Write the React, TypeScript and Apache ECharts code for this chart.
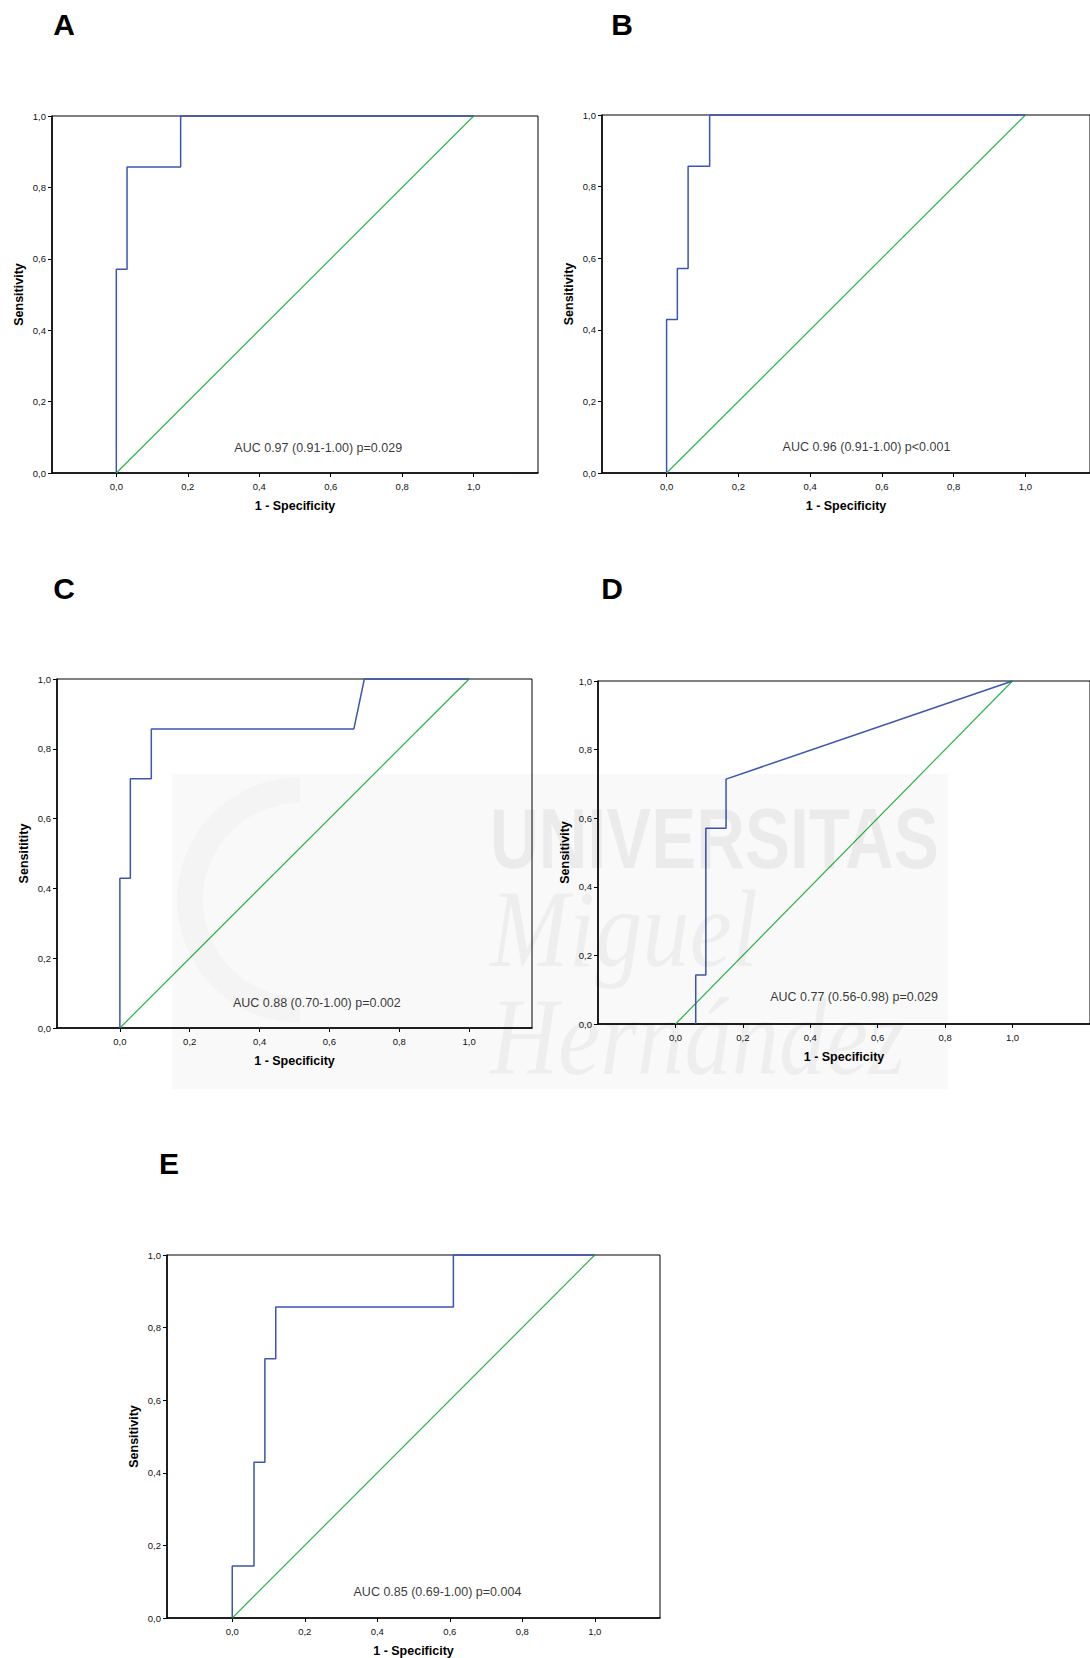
import React, { useEffect, useRef } from 'react';
import * as echarts from 'echarts';

const FONT = '"Liberation Sans", Arial, Helvetica, sans-serif';
const SERIF = '"Liberation Serif", "DejaVu Serif", serif';

// ---- data ----
const panelLetters = ['A', 'B', 'C', 'D', 'E'];
const yTitles = ['Sensitivity', 'Sensitivity', 'Sensititity', 'Sensitivity', 'Sensitivity'];
const xTitle = '1 - Specificity';
const xTickValues = [0, 0.2, 0.4, 0.6, 0.8, 1.0];
const aucTexts = [
  'AUC 0.97 (0.91-1.00) p=0.029',
  'AUC 0.96 (0.91-1.00) p<0.001',
  'AUC 0.88 (0.70-1.00) p=0.002',
  'AUC 0.77 (0.56-0.98) p=0.029',
  'AUC 0.85 (0.69-1.00) p=0.004',
];

const fprA = [0, 0, 0.03, 0.03, 0.18, 0.18, 1];
const sensA = [0, 0.571, 0.571, 0.857, 0.857, 1, 1];
const fprB = [0, 0, 0.03, 0.03, 0.06, 0.06, 0.12, 0.12, 1];
const sensB = [0, 0.429, 0.429, 0.571, 0.571, 0.857, 0.857, 1, 1];
const fprC = [0, 0, 0.03, 0.03, 0.09, 0.09, 0.67, 0.70, 1];
const sensC = [0, 0.429, 0.429, 0.714, 0.714, 0.857, 0.857, 1, 1];
const fprD = [0.06, 0.06, 0.09, 0.09, 0.15, 0.15, 1];
const sensD = [0, 0.143, 0.143, 0.571, 0.571, 0.714, 1];
const fprE = [0, 0, 0.06, 0.06, 0.09, 0.09, 0.12, 0.12, 0.61, 0.61, 1];
const sensE = [0, 0.143, 0.143, 0.429, 0.429, 0.714, 0.714, 0.857, 0.857, 1, 1];
const refFpr = [0, 1];
const refSens = [0, 1];

const curves = [
  [fprA, sensA],
  [fprB, sensB],
  [fprC, sensC],
  [fprD, sensD],
  [fprE, sensE],
];

// ---- layout (pixels / anchors, kept apart from the data) ----
const panels = [
  { left: 52, top: 116, width: 486, height: 357, min: -0.18, max: 1.18, auc: [0.565, 0.07], letter: [64, 24] },
  { left: 602, top: 115, width: 489, height: 358, min: -0.18, max: 1.18, auc: [0.557, 0.0715], letter: [622, 24] },
  { left: 57, top: 679, width: 475, height: 349, min: -0.18, max: 1.18, auc: [0.564, 0.073], letter: [64, 588] },
  { left: 598, top: 681, width: 499, height: 343, min: -0.23, max: 1.23, auc: [0.53, 0.08], letter: [612, 588] },
  { left: 167, top: 1255, width: 493, height: 363, min: -0.18, max: 1.18, auc: [0.566, 0.0716], letter: [169, 1163] },
];

const BLUE = '#3d55b3';
const GREEN = '#2fb548';

const fmt = (v: number) => v.toFixed(1).replace('.', ',');

export default function App() {
  const ref = useRef<HTMLDivElement>(null);

  useEffect(() => {
    document.body.style.margin = '0';
    const chart = echarts.init(ref.current as HTMLDivElement, undefined, { renderer: 'svg' });

    const grid: any[] = [];
    const xAxis: any[] = [];
    const yAxis: any[] = [];
    const series: any[] = [];
    const graphic: any[] = [];

    panels.forEach((p, i) => {
      grid.push({
        left: p.left,
        top: p.top,
        width: p.width,
        height: p.height,
        show: true,
        borderColor: '#000',
        borderWidth: 1,
        backgroundColor: 'transparent',
      });
      xAxis.push({
        gridIndex: i,
        type: 'value',
        min: p.min,
        max: p.max,
        axisLine: { show: true, onZero: false, lineStyle: { color: '#000', width: 1.5 } },
        axisTick: { show: true, customValues: xTickValues, length: 4, lineStyle: { color: '#000', width: 1 } },
        axisLabel: {
          show: true,
          customValues: xTickValues,
          formatter: (v: number) => fmt(v),
          fontSize: 9.5,
          color: '#111',
          margin: 8,
          fontFamily: FONT,
        },
        splitLine: { show: false },
        name: xTitle,
        nameLocation: 'middle',
        nameGap: 26,
        nameTextStyle: { fontWeight: 'bold', fontSize: 12.5, color: '#000', fontFamily: FONT },
      });
      yAxis.push({
        gridIndex: i,
        type: 'value',
        min: 0,
        max: 1,
        interval: 0.2,
        axisLine: { show: true, onZero: false, lineStyle: { color: '#000', width: 1.5 } },
        axisTick: { show: true, length: 4, lineStyle: { color: '#000', width: 1 } },
        axisLabel: {
          formatter: (v: number) => fmt(v),
          fontSize: 9.5,
          color: '#111',
          margin: 6,
          fontFamily: FONT,
        },
        splitLine: { show: false },
        name: yTitles[i],
        nameLocation: 'middle',
        nameGap: 27,
        nameTextStyle: { fontWeight: 'bold', fontSize: 12.5, color: '#000', fontFamily: FONT },
      });

      const [fpr, sens] = curves[i];
      series.push({
        type: 'line',
        xAxisIndex: i,
        yAxisIndex: i,
        data: refFpr.map((x, j) => [x, refSens[j]]),
        symbol: 'none',
        clip: false,
        silent: true,
        lineStyle: { color: GREEN, width: 1.2 },
        z: 2,
      });
      series.push({
        type: 'line',
        xAxisIndex: i,
        yAxisIndex: i,
        data: fpr.map((x, j) => [x, sens[j]]),
        symbol: 'none',
        clip: false,
        silent: true,
        lineStyle: { color: BLUE, width: 1.5 },
        z: 3,
      });
      series.push({
        type: 'scatter',
        xAxisIndex: i,
        yAxisIndex: i,
        data: [p.auc],
        symbolSize: 1,
        silent: true,
        itemStyle: { color: 'rgba(0,0,0,0)' },
        label: {
          show: true,
          position: 'inside',
          formatter: aucTexts[i],
          fontSize: 12.5,
          color: '#000',
          fontFamily: FONT,
        },
        z: 4,
      });

      graphic.push({
        type: 'text',
        x: p.letter[0],
        y: p.letter[1],
        style: {
          text: panelLetters[i],
          font: `bold 30px ${FONT}`,
          fill: '#000',
          textAlign: 'center',
          textVerticalAlign: 'middle',
        },
        z: 10,
      });
    });

    // faint watermark overlay
    graphic.push({
      type: 'rect',
      shape: { x: 172, y: 774, width: 776, height: 315 },
      style: { fill: 'rgba(0,0,0,0.025)', shadowBlur: 14, shadowColor: 'rgba(0,0,0,0.06)', shadowOffsetY: 10 },
      silent: true,
      z: 20,
    });
    graphic.push({
      type: 'arc',
      shape: { cx: 300, cy: 900, r: 110, startAngle: Math.PI * 0.5, endAngle: Math.PI * 1.5 },
      style: { stroke: 'rgba(0,0,0,0.02)', lineWidth: 26, fill: 'none' },
      silent: true,
      z: 21,
    });
    graphic.push({
      type: 'text',
      x: 490,
      y: 838,
      scaleX: 0.785,
      style: {
        text: 'UNIVERSITAS',
        font: `bold 86px ${FONT}`,
        fill: 'rgba(0,0,0,0.055)',
        textAlign: 'left',
        textVerticalAlign: 'middle',
      },
      silent: true,
      z: 21,
    });
    graphic.push({
      type: 'text',
      x: 490,
      y: 929,
      scaleX: 0.86,
      style: {
        text: 'Miguel',
        font: `italic 110px ${SERIF}`,
        fill: 'rgba(0,0,0,0.045)',
        textAlign: 'left',
        textVerticalAlign: 'middle',
      },
      silent: true,
      z: 21,
    });
    graphic.push({
      type: 'text',
      x: 490,
      y: 1037,
      scaleX: 0.86,
      style: {
        text: 'Hernández',
        font: `italic 110px ${SERIF}`,
        fill: 'rgba(0,0,0,0.045)',
        textAlign: 'left',
        textVerticalAlign: 'middle',
      },
      silent: true,
      z: 21,
    });

    chart.setOption({
      animation: false,
      backgroundColor: '#fff',
      grid,
      xAxis,
      yAxis,
      series,
      graphic,
    });

    return () => {
      chart.dispose();
    };
  }, []);

  return <div ref={ref} style={{ width: 1090, height: 1658 }} />;
}
